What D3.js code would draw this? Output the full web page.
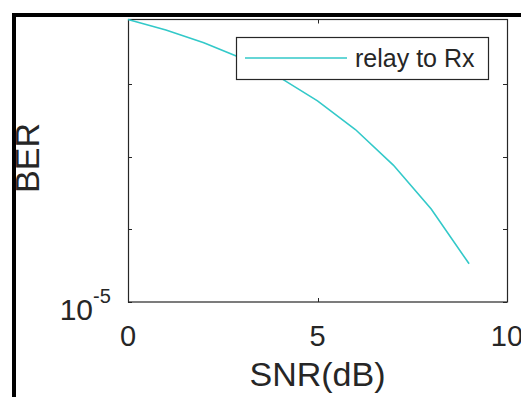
<!DOCTYPE html>
<html>
<head>
<meta charset="utf-8">
<script src="https://cdn.jsdelivr.net/npm/d3@7"></script>
<style>
  html, body { margin: 0; padding: 0; background: #fff; }
  svg { display: block; font-family: "Liberation Sans", Arial, sans-serif; }
</style>
</head>
<body>
<svg width="521" height="397"></svg>
<script>
// values
let snr = [0, 1, 2, 3, 4, 5, 6, 7, 8, 9];
let ber = [0.0786, 0.0563, 0.0375, 0.0229, 0.0125, 0.00595, 0.00239, 0.000773, 0.000191, 0.0000336];
let xTicks = [0, 5, 10];
let yTicks = [1e-5, 1e-4, 1e-3, 1e-2];
let seriesName = "relay to Rx";

let width = 521;
let height = 397;

let svg = d3.select("svg");

// frame of the screenshot (left and top only)
svg.append("rect").attr("x", 12).attr("y", 13).attr("width", 4).attr("height", height - 13).attr("fill", "#000");
svg.append("rect").attr("x", 12).attr("y", 13).attr("width", width - 12).attr("height", 4).attr("fill", "#000");

let pLeft = 128, pRight = 507, pTop = 19.5, pBottom = 302;

let scaleX = d3.scaleLinear()
    .domain([0, 10])
    .range([pLeft, pRight]);

// top of the y range is the largest value
let scaleY = d3.scaleLog()
    .domain([1e-5, d3.max(ber)])
    .range([pBottom, pTop]);

let axisColor = "#262626";

// ticks, pointing inward on all four sides
let g = svg.append("g").attr("stroke", axisColor).attr("stroke-width", 1);
xTicks.forEach(function(t) {
    let x = Math.round(scaleX(t)) + 0.5;
    g.append("line").attr("x1", x).attr("x2", x).attr("y1", pBottom).attr("y2", pBottom - 4);
    g.append("line").attr("x1", x).attr("x2", x).attr("y1", pTop).attr("y2", pTop + 4);
});
yTicks.forEach(function(t) {
    let y = Math.round(scaleY(t)) + 0.5;
    g.append("line").attr("x1", pLeft).attr("x2", pLeft + 4).attr("y1", y).attr("y2", y);
    g.append("line").attr("x1", pRight).attr("x2", pRight - 4).attr("y1", y).attr("y2", y);
});

// box
svg.append("rect")
    .attr("x", pLeft + 0.5).attr("y", pTop)
    .attr("width", pRight - pLeft).attr("height", pBottom - pTop)
    .attr("fill", "none").attr("stroke", axisColor).attr("stroke-width", 1.2);

// curve
let lineF = d3.line()
    .x(function(d, i) { return scaleX(snr[i]); })
    .y(function(d) { return scaleY(d); });

svg.append("path")
    .datum(ber)
    .attr("d", lineF)
    .attr("fill", "none")
    .attr("stroke", "#33c9c9")
    .attr("stroke-width", 1.6);

// tick labels
svg.selectAll(".xlab")
    .data(xTicks)
    .enter()
    .append("text")
    .attr("x", function(d) { return scaleX(d); })
    .attr("y", 346)
    .attr("text-anchor", "middle")
    .attr("font-size", 29)
    .attr("fill", axisColor)
    .text(function(d) { return d; });

svg.append("text")
    .attr("x", 93)
    .attr("y", 320)
    .attr("text-anchor", "end")
    .attr("font-size", 30)
    .attr("fill", axisColor)
    .text("10");
svg.append("text")
    .attr("x", 93)
    .attr("y", 303)
    .attr("font-size", 20)
    .attr("fill", axisColor)
    .text("-5");

// axis titles
svg.append("text")
    .attr("x", (pLeft + pRight) / 2)
    .attr("y", 386)
    .attr("text-anchor", "middle")
    .attr("font-size", 34)
    .attr("fill", axisColor)
    .text("SNR(dB)");

svg.append("text")
    .attr("transform", "translate(39, 158) rotate(-90)")
    .attr("text-anchor", "middle")
    .attr("font-size", 34)
    .attr("fill", axisColor)
    .text("BER");

// legend
let leg = svg.append("g");
leg.append("rect")
    .attr("x", 236.5).attr("y", 37.5)
    .attr("width", 252).attr("height", 42)
    .attr("fill", "#fff").attr("stroke", axisColor).attr("stroke-width", 1.2);
leg.append("line")
    .attr("x1", 245).attr("x2", 347).attr("y1", 58).attr("y2", 58)
    .attr("stroke", "#33c9c9").attr("stroke-width", 1.6);
leg.append("text")
    .attr("x", 355).attr("y", 67)
    .attr("font-size", 25)
    .attr("fill", axisColor)
    .text(seriesName);
</script>
</body>
</html>
